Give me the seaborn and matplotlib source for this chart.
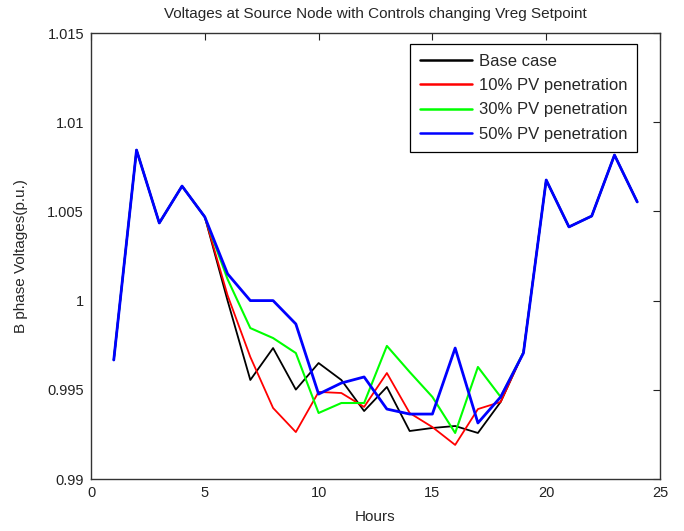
import pandas as pd
import numpy as np
import seaborn as sns
import matplotlib.pyplot as plt

hours = list(range(1, 25))

base = [0.99667, 1.00844, 1.00435, 1.00642, 1.00469, 1.0000, 0.99555, 0.99734,
        0.99501, 0.99650, 0.99555, 0.99381, 0.99516, 0.99269, 0.99286, 0.99297,
        0.99258, 0.99432, 0.99710, 1.00676, 1.00413, 1.00474, 1.00816, 1.00553]
pv10 = [0.99667, 1.00844, 1.00435, 1.00642, 1.00469, 1.0003, 0.99684, 0.99398,
        0.99263, 0.99488, 0.99482, 0.99404, 0.99594, 0.99370, 0.99291, 0.99191,
        0.99392, 0.99432, 0.99710, 1.00676, 1.00413, 1.00474, 1.00816, 1.00553]
pv30 = [0.99667, 1.00844, 1.00435, 1.00642, 1.00469, 1.0012, 0.99846, 0.99790,
        0.99706, 0.99370, 0.99426, 0.99426, 0.99746, 0.99600, 0.99460, 0.99258,
        0.99628, 0.99460, 0.99710, 1.00676, 1.00413, 1.00474, 1.00816, 1.00553]
pv50 = [0.99667, 1.00844, 1.00435, 1.00642, 1.00469, 1.00150, 1.0000, 1.0000,
        0.99869, 0.99476, 0.99538, 0.99572, 0.99392, 0.99364, 0.99364, 0.99734,
        0.99314, 0.99460, 0.99706, 1.00676, 1.00413, 1.00474, 1.00816, 1.00553]

labels = ['Base case', '10% PV penetration', '30% PV penetration', '50% PV penetration']
colors = ['black', '#ff0000', '#00ff00', '#0000ff']

df = pd.concat([pd.DataFrame({'Hours': hours, 'V': v, 'case': lab})
                for v, lab in zip([base, pv10, pv30, pv50], labels)])

sns.set_style('white')
plt.rcParams['font.family'] = ['Liberation Sans', 'DejaVu Sans']

fig = plt.figure(figsize=(6.84, 5.31), dpi=100)
ax = fig.add_axes([91/684, 52/531, 569/684, 446/531])

sns.lineplot(data=df, x='Hours', y='V', hue='case', palette=dict(zip(labels, colors)),
             ax=ax, legend=False)
for line, lw in zip(ax.get_lines(), [1.3, 1.3, 1.5, 2.0]):
    line.set_linewidth(lw)

ax.set_xlim(0, 25)
ax.set_ylim(0.99, 1.015)
ax.set_xticks([0, 5, 10, 15, 20, 25])
ax.set_yticks([0.99, 0.995, 1.0, 1.005, 1.01, 1.015])
ax.set_yticklabels(['0.99', '0.995', '1', '1.005', '1.01', '1.015'])
ax.tick_params(direction='in', top=True, right=True, length=5, width=0.8,
               labelsize=10.5, colors='#222222', pad=5)
for s in ax.spines.values():
    s.set_color('#333333')
    s.set_linewidth(1)

ax.set_xlabel('Hours', fontsize=11, labelpad=7)
ax.set_ylabel('B phase Voltages(p.u.)', fontsize=11, labelpad=14)
ax.set_title('Voltages at Source Node with Controls changing Vreg Setpoint', fontsize=11, pad=11)

handles = [plt.Line2D([], [], color=c, lw=1.8) for c in colors]
leg = ax.legend(handles, labels, loc='upper right', fontsize=12, fancybox=False,
                edgecolor='black', framealpha=1, borderaxespad=0,
                bbox_to_anchor=(0.96, 0.975), borderpad=0.6,
                handlelength=3.1, handletextpad=0.4, labelspacing=0.55)
leg.get_frame().set_linewidth(0.9)

fig.savefig('out.png', dpi=100)
